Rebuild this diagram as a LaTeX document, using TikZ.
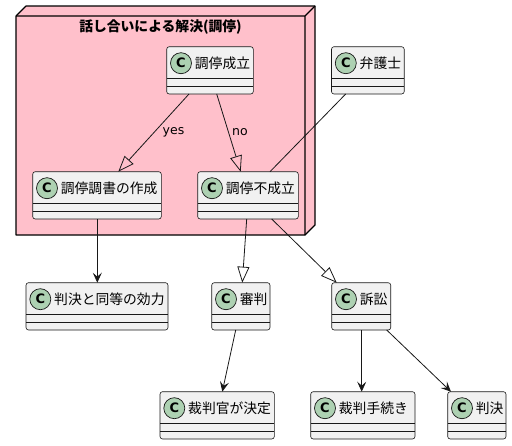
\documentclass[tikz,border=0pt]{standalone}
\usepackage{fontspec}
\setmainfont{DejaVu Sans}
\newfontfamily\jpfont{Noto Sans CJK JP}
\usetikzlibrary{arrows.meta}
\definecolor{cline}{HTML}{181818}
\definecolor{cbox}{HTML}{F1F1F1}
\definecolor{ccirc}{HTML}{ADD1B2}
\definecolor{cpink}{HTML}{FFC0CB}
\tikzset{
  classbox/.style={draw=cline, fill=cbox, rounded corners=2.5pt, minimum height=47.3pt,
    inner sep=0pt, outer sep=0pt, line width=0.6pt},
  sepline/.style={draw=cline, line width=0.6pt},
  circ/.style={circle, draw=cline, fill=ccirc, minimum size=21pt, inner sep=0pt,
    line width=0.7pt, font=\fontsize{13}{13}\selectfont\bfseries},
  cname/.style={anchor=west, inner sep=0pt, font=\jpfont\fontsize{13.8}{14}\selectfont},
  conn/.style={draw=cline, line width=0.8pt},
  ext/.style={conn, -{Triangle[open, length=16pt, width=12pt]}},
  dep/.style={conn, -{Stealth[length=10pt, width=9pt, inset=4pt]}},
  elabel/.style={inner sep=0pt, font=\fontsize{12.5}{13}\selectfont},
}
\newcommand\umlclass[5]{%
  \node[classbox, minimum width=#4pt, anchor=north west] (#1) at (#2,#3) {};
  \draw[sepline] ([yshift=-31.5pt]#1.north west) -- ([yshift=-31.5pt]#1.north east);
  \draw[sepline] ([yshift=-40pt]#1.north west) -- ([yshift=-40pt]#1.north east);
  \node[circ] (#1c) at ([xshift=14.3pt,yshift=-16.5pt]#1.north west) {C};
  \node[cname] (#1t) at ([xshift=28pt,yshift=-16.5pt]#1.north west) {#5};
}
\begin{document}
\begin{tikzpicture}[x=1pt,y=-1pt]
\useasboundingbox (0,0) rectangle (512,445);
% package
\coordinate (pA) at (16,16);
\coordinate (pB) at (305,16);
\coordinate (pC) at (305,235);
\coordinate (pD) at (16,235);
\draw[fill=cpink, line width=1.2pt, line join=round] (pA) -- ++(10,-10) -- ++(289,0) -- ++(0,219) -- (pC) -- (pD) -- cycle;
\draw[line width=1.2pt] (pA) -- (pB) -- (pC) (pB) -- ++(10,-10);
\node[font=\jpfont\fontsize{13.8}{14}\selectfont\bfseries, inner sep=0pt] (ptitle) at (160.5,27) {話し合いによる解決(調停)};
% classes
\umlclass{s1}{166.7}{46.7}{86.6}{調停成立}
\umlclass{s2}{331.5}{46.7}{72.7}{弁護士}
\umlclass{s3}{32.7}{171.7}{128.6}{調停調書の作成}
\umlclass{s4}{197.7}{171.7}{100.6}{調停不成立}
\umlclass{s5}{26}{282.7}{142}{判決と同等の効力}
\umlclass{s6}{211.7}{282.7}{58.3}{審判}
\umlclass{s7}{331.7}{282.7}{59}{訴訟}
\umlclass{s8}{160}{391.7}{114.3}{裁判官が決定}
\umlclass{s9}{310.7}{391.7}{104.3}{裁判手続き}
\umlclass{s10}{447.7}{391.7}{58.3}{判決}
% connectors
\draw[ext] ([xshift=22.3pt]s1.south west) -- ([xshift=85.6pt]s3.north west);
\draw[ext] ([xshift=50pt]s1.south west) -- ([xshift=43pt]s4.north west);
\draw[conn] ([xshift=14.2pt]s2.south west) -- ([xshift=72.3pt]s4.north west);
\draw[dep] ([xshift=64.6pt]s3.south west) -- ([xshift=71.3pt]s5.north west);
\draw[ext] ([xshift=49pt]s4.south west) -- ([xshift=30.6pt]s6.north west);
\draw[ext] ([xshift=74pt]s4.south west) -- ([xshift=5pt]s7.north west);
\draw[dep] ([xshift=24pt]s6.south west) -- ([xshift=62.3pt]s8.north west);
\draw[dep] ([xshift=30pt]s7.south west) -- ([xshift=51pt]s9.north west);
\draw[dep] ([xshift=55pt]s7.south west) -- ([xshift=3.3pt]s10.north west);
% labels
\node[elabel] (lyes) at (173.5,132) {yes};
\node[elabel] (lno) at (240,132) {no};
\end{tikzpicture}
\end{document}
